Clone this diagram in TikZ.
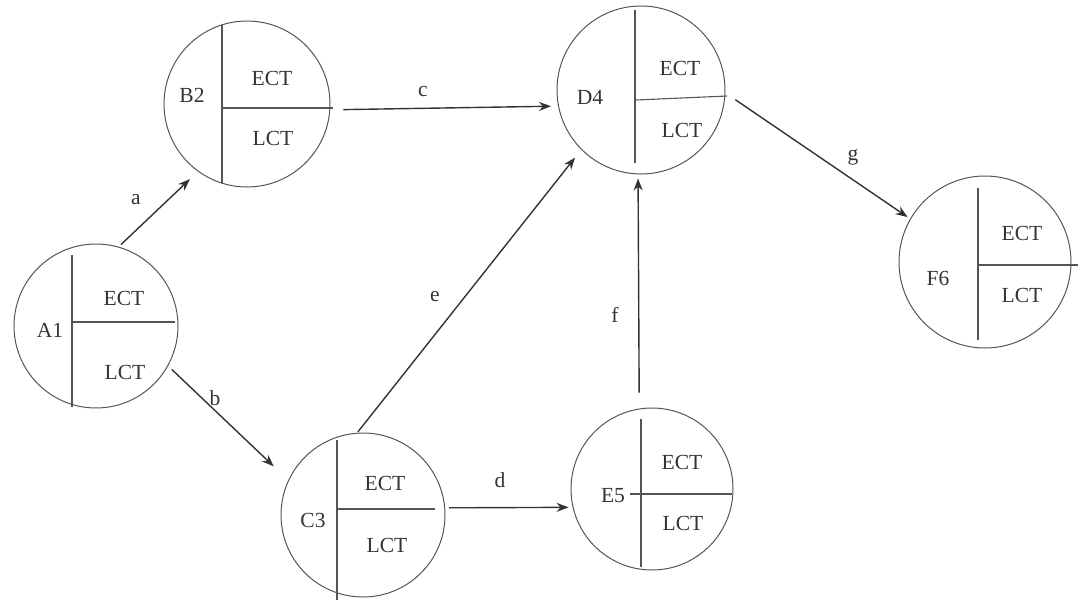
\documentclass[tikz,border=0pt]{standalone}
\usepackage{fontspec}
\setmainfont{Liberation Serif}
\usetikzlibrary{arrows.meta,calc}
\definecolor{ink}{HTML}{333333}
\definecolor{rim}{HTML}{555555}
\begin{document}
\begin{tikzpicture}[x=1pt,y=-1pt,
  txt/.style={font=\fontsize{21.5}{24}\selectfont, text=ink, inner sep=0pt},
  evt/.style={circle, draw=rim, line width=1pt, inner sep=0pt},
  div/.style={draw=rim, line width=1.1pt},
  arr/.style={draw=ink, line width=1.4pt, -{Stealth[length=12pt,width=9pt]}}]
\useasboundingbox (0,0) rectangle (1080,600);
% event circles
\node[evt, minimum size=164pt] (A) at (96,326) {};
\node[evt, minimum size=166pt] (B) at (247,104) {};
\node[evt, minimum size=164pt] (C) at (363,515) {};
\node[evt, minimum size=168pt] (D) at (641,90) {};
\node[evt, minimum size=162pt] (E) at (652,489) {};
\node[evt, minimum size=172pt] (F) at (985,262) {};
% dividers
\draw[div] ([shift={(-24,-71)}]A.center) -- ([shift={(-24,81)}]A.center);
\draw[div] ([shift={(-23,-4)}]A.center) -- ([shift={(79,-4)}]A.center);
\draw[div] ([shift={(-25,-79)}]B.center) -- ([shift={(-25,79)}]B.center);
\draw[div] ([shift={(-25,4)}]B.center) -- ([shift={(86,4)}]B.center);
\draw[div] ([shift={(-26,-75)}]C.center) -- ([shift={(-26,85)}]C.center);
\draw[div] ([shift={(-26,-6)}]C.center) -- ([shift={(72,-6)}]C.center);
\draw[div] ([shift={(-6,-80)}]D.center) -- ([shift={(-6,73)}]D.center);
\draw[div] ([shift={(-5,10)}]D.center) -- ([shift={(86,6)}]D.center);
\draw[div] ([shift={(-11,-70)}]E.center) -- ([shift={(-11,78)}]E.center);
\draw[div] ([shift={(-22,5)}]E.center) -- ([shift={(80,5)}]E.center);
\draw[div] ([shift={(-7,-74)}]F.center) -- ([shift={(-7,78)}]F.center);
\draw[div] ([shift={(-6,3)}]F.center) -- ([shift={(93,3)}]F.center);
% texts in circles
\node[txt] (A1) at (50,330) {A1};
\node[txt] (Ae) at (124,298) {ECT};
\node[txt] (Al) at (125,372) {LCT};
\node[txt] (B2) at (192,95) {B2};
\node[txt] (Be) at (272,78) {ECT};
\node[txt] (Bl) at (273,138) {LCT};
\node[txt] (C3) at (313,520) {C3};
\node[txt] (Ce) at (385,483) {ECT};
\node[txt] (Cl) at (387,545) {LCT};
\node[txt] (D4) at (590,97) {D4};
\node[txt] (De) at (680,68) {ECT};
\node[txt] (Dl) at (682,130) {LCT};
\node[txt] (E5) at (613,496) {E5};
\node[txt] (Ee) at (682,462) {ECT};
\node[txt] (El) at (683,523) {LCT};
\node[txt] (F6) at (938,278) {F6};
\node[txt] (Fe) at (1022,233) {ECT};
\node[txt] (Fl) at (1022,295) {LCT};
% activities
\draw[arr, shorten <=3pt, shorten >=11pt] (A.74) -- (B.234);
\draw[arr, shorten <=5pt, shorten >=20pt] (A.-29) -- (C.155);
\draw[arr, shorten <=13pt, shorten >=7pt] (B.-4) -- (D.191);
\draw[arr, shorten <=4pt, shorten >=4pt] (C.5) -- (E.193);
\draw[arr, shorten <=1pt, shorten >=10pt] (C.94) -- (D.225);
\draw[arr, shorten <=16pt, shorten >=4pt] (E.99.5) -- (D.268);
\draw[arr, shorten <=12pt, shorten >=3pt] (D.-2) -- (F.150);
% activity labels
\node[txt] (la) at (136,200) {a};
\node[txt] (lb) at (215,398) {b};
\node[txt] (lc) at (423,92) {c};
\node[txt] (ld) at (500,480) {d};
\node[txt] (le) at (435,297) {e};
\node[txt] (lf) at (615,315) {f};
\node[txt] (lg) at (853,157) {g};
\end{tikzpicture}
\end{document}
